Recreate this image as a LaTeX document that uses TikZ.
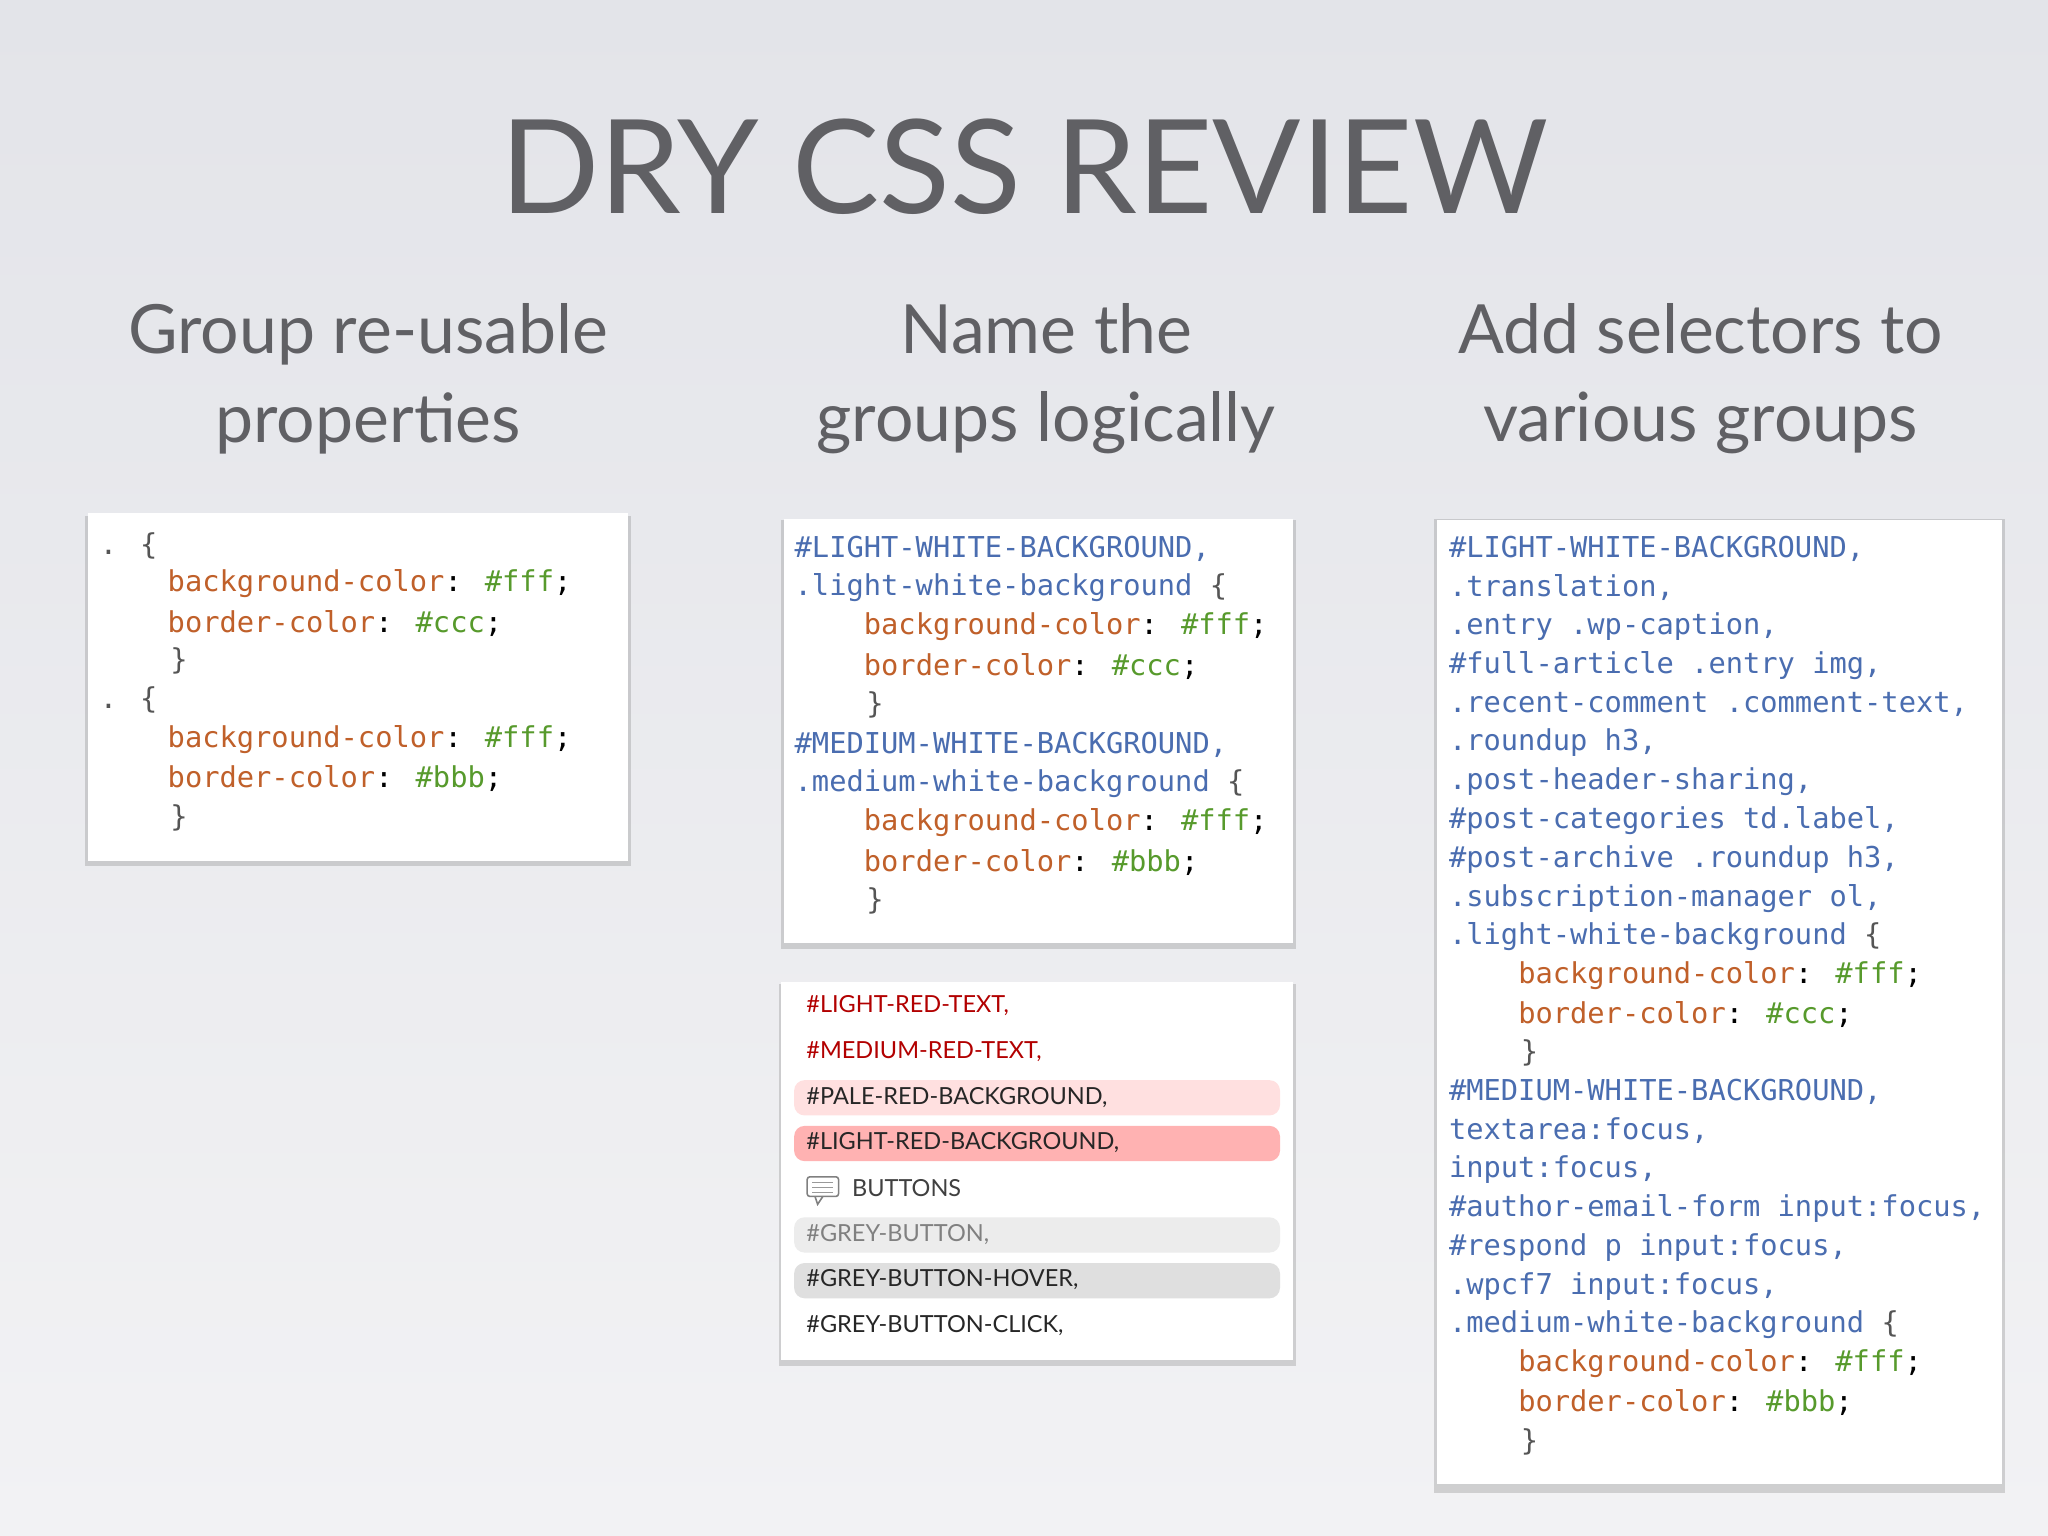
\documentclass[tikz,border=0pt]{standalone}
\usepackage{fontspec}
\setmainfont{Lato}
\newfontfamily\codef{DejaVu Sans Mono}
\usetikzlibrary{shadows}
\definecolor{sel}{HTML}{4A6DB0}
\definecolor{prop}{HTML}{C0602A}
\definecolor{val}{HTML}{579A2C}
\definecolor{brace}{HTML}{555555}
\definecolor{titlec}{HTML}{606064}
\definecolor{bgtop}{HTML}{E3E4E9}
\definecolor{bgbot}{HTML}{F2F2F4}
\tikzset{
 panel/.style={fill=white,draw=none,drop shadow={shadow xshift=0pt,shadow yshift=-1.5pt,shadow scale=1.01,opacity=0.3}},
 code/.style={anchor=west,inner sep=0pt,font=\codef\fontsize{11}{13}\selectfont},
 ttl/.style={text=titlec,font=\fontsize{50}{60}\selectfont},
 sub/.style={text=titlec,align=center,font=\fontsize{26}{34}\selectfont},
 lst/.style={anchor=west,inner sep=0pt,font=\fontsize{9}{11}\selectfont},
 hl/.style={rounded corners=4pt,draw=none}
}
\newcommand{\cP}[1]{\textcolor{prop}{#1}}
\newcommand{\cV}[1]{\textcolor{val}{#1}}
\newcommand{\cS}[1]{\textcolor{sel}{#1}}
\begin{document}
\begin{tikzpicture}[x=0.5pt,y=-0.5pt]
\shade[top color=bgtop,bottom color=bgbot] (0,0) rectangle (1568,1176);
\useasboundingbox (0,0) rectangle (1568,1176);
\node[ttl] (title) at (784,128) {DRY CSS REVIEW};
\node[sub] (s1) at (282,290) {Group re-usable\\properties};
\node[sub] (s2) at (801,290) {Name the\\groups logically};
\node[sub] (s3) at (1302,290) {Add selectors to\\various groups};
% panel 1
\fill[panel] (67,393) rectangle (481,659);
\node[code,text=brace] (a1) at (76,418) {. \{};
\node[code] (a2) at (128,447) {\cP{background-color}: \cV{\#fff};};
\node[code] (a3) at (128,477) {\cP{border-color}: \cV{\#ccc};};
\node[code,text=brace] (a4) at (130,506) {\}};
\node[code,text=brace] (a5) at (76,536) {. \{};
\node[code] (a6) at (128,566) {\cP{background-color}: \cV{\#fff};};
\node[code] (a7) at (128,596) {\cP{border-color}: \cV{\#bbb};};
\node[code,text=brace] (a8) at (130,626) {\}};
% panel 2
\fill[panel] (600,397) rectangle (990,722);
\node[code] (b1) at (608,420) {\cS{\#LIGHT-WHITE-BACKGROUND,}};
\node[code] (b2) at (608,450) {\cS{.light-white-background} \textcolor{brace}{\{}};
\node[code] (b3) at (661,480) {\cP{background-color}: \cV{\#fff};};
\node[code] (b4) at (661,510) {\cP{border-color}: \cV{\#ccc};};
\node[code,text=brace] (b5) at (663,540) {\}};
\node[code] (b6) at (608,570) {\cS{\#MEDIUM-WHITE-BACKGROUND,}};
\node[code] (b7) at (608,600) {\cS{.medium-white-background} \textcolor{brace}{\{}};
\node[code] (b8) at (661,630) {\cP{background-color}: \cV{\#fff};};
\node[code] (b9) at (661,660) {\cP{border-color}: \cV{\#bbb};};
\node[code,text=brace] (b10) at (663,690) {\}};
% panel 3
\fill[panel] (598,752) rectangle (990,1041);
\fill[hl,fill=red!12] (608,827) rectangle (980,854);
\fill[hl,fill=red!30] (608,862) rectangle (980,889);
\fill[hl,fill=gray!15] (608,932) rectangle (980,959);
\fill[hl,fill=gray!25] (608,967) rectangle (980,994);
\node[lst,text=red!70!black] (c1) at (617,770) {\#LIGHT-RED-TEXT,};
\node[lst,text=red!70!black] (c2) at (617,805) {\#MEDIUM-RED-TEXT,};
\node[lst,text=black!85] (c3) at (617,840) {\#PALE-RED-BACKGROUND,};
\node[lst,text=black!85] (c4) at (617,875) {\#LIGHT-RED-BACKGROUND,};
\draw[gray,line width=0.6pt,rounded corners=1pt] (618,901) rectangle (642,916);
\draw[gray,line width=0.6pt] (624,916) -- (626,922) -- (630,916);
\foreach \yy in {905,909,913}{\draw[gray!80,line width=0.4pt] (622,\yy) -- (638,\yy);}
\node[lst,text=black!75] (c5) at (652,910) {BUTTONS};
\node[lst,text=gray] (c6) at (617,945) {\#GREY-BUTTON,};
\node[lst,text=black!85] (c7) at (617,980) {\#GREY-BUTTON-HOVER,};
\node[lst,text=black!85] (c8) at (617,1015) {\#GREY-BUTTON-CLICK,};
% panel 4
\fill[panel] (1100,398) rectangle (1533,1136);
\foreach \t [count=\i from 0] in {
 {\cS{\#LIGHT-WHITE-BACKGROUND,}},
 {\cS{.translation,}},
 {\cS{.entry .wp-caption,}},
 {\cS{\#full-article .entry img,}},
 {\cS{.recent-comment .comment-text,}},
 {\cS{.roundup h3,}},
 {\cS{.post-header-sharing,}},
 {\cS{\#post-categories td.label,}},
 {\cS{\#post-archive .roundup h3,}},
 {\cS{.subscription-manager ol,}},
 {\cS{.light-white-background} \textcolor{brace}{\{}}}
 {\node[code] (d\i) at (1109,420+29.74*\i) {\t};}
\node[code] (e1) at (1162,747) {\cP{background-color}: \cV{\#fff};};
\node[code] (e2) at (1162,777) {\cP{border-color}: \cV{\#ccc};};
\node[code,text=brace] (e3) at (1164,806) {\}};
\foreach \t [count=\i from 0] in {
 {\cS{\#MEDIUM-WHITE-BACKGROUND,}},
 {\cS{textarea:focus,}},
 {\cS{input:focus,}},
 {\cS{\#author-email-form input:focus,}},
 {\cS{\#respond p input:focus,}},
 {\cS{.wpcf7 input:focus,}},
 {\cS{.medium-white-background} \textcolor{brace}{\{}}}
 {\node[code] (f\i) at (1109,836+29.74*\i) {\t};}
\node[code] (g1) at (1162,1044) {\cP{background-color}: \cV{\#fff};};
\node[code] (g2) at (1162,1074) {\cP{border-color}: \cV{\#bbb};};
\node[code,text=brace] (g3) at (1164,1104) {\}};
\end{tikzpicture}
\end{document}
